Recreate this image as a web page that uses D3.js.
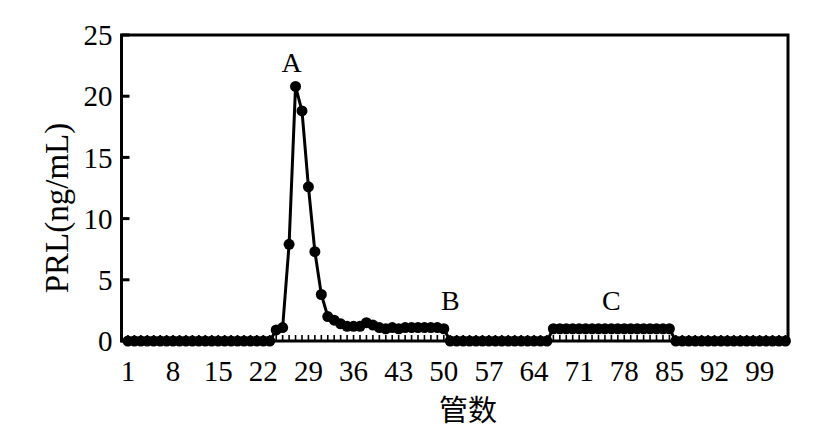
<!DOCTYPE html>
<html><head><meta charset="utf-8">
<script src="https://cdn.jsdelivr.net/npm/d3@7"></script>
<style>html,body{margin:0;padding:0;background:#fff;}</style>
</head><body>
<svg id="c" width="826" height="448"></svg>
<script>
// Tube numbers (categories)
const tubes = d3.range(1, 104);
// PRL concentration (ng/mL) per tube
const prl = [
  0,0,0,0,0,0,0,0,0,0, 0,0,0,0,0,0,0,0,0,0, 0,0,0,
  0.9,1.1,7.9,20.8,18.8,12.6,7.3,3.8,2.0,1.7,1.4,1.2,1.2,1.2,1.5,1.3,1.1,1.0,1.1,1.0,1.1,1.1,1.1,1.1,1.1,1.1,1.0,
  0,0,0,0,0,0,0,0,0,0,0,0,0,0,0,0,
  1.0,1.0,1.0,1.0,1.0,1.0,1.0,1.0,1.0,1.0,1.0,1.0,1.0,1.0,1.0,1.0,1.0,1.0,1.0,
  0,0,0,0,0,0,0,0,0,0,0,0,0,0,0,0,0,0
];
const xTickLabels = [1, 8, 15, 22, 29, 36, 43, 50, 57, 64, 71, 78, 85, 92, 99];
const yTicks = [0, 5, 10, 15, 20, 25];
const peakLabels = [{t: "A", tube: 27, v: 20.8}, {t: "B", tube: 51, v: 1.1}, {t: "C", tube: 76, v: 1.0}];
const yTitle = "PRL(ng/mL)";
const xTitle = "管数";

const L = 121.5, R = 788, T = 35, B = 341;
const x = d3.scaleLinear().domain([0, 103.4]).range([L, R]);
const y = d3.scaleLinear().domain([0, 25]).range([B, T]);
const svg = d3.select("#c");
const serif = "'Liberation Serif','Times New Roman',serif";

// x minor ticks (inward)
svg.append("g").selectAll("line").data(tubes).join("line")
  .attr("x1", d => x(d)).attr("x2", d => x(d))
  .attr("y1", B).attr("y2", B - 6)
  .attr("stroke", "#000").attr("stroke-width", 1.6);

// y ticks (inward)
svg.append("g").selectAll("line").data(yTicks).join("line")
  .attr("x1", L).attr("x2", L + 8)
  .attr("y1", d => y(d)).attr("y2", d => y(d))
  .attr("stroke", "#000").attr("stroke-width", 3);

// frame
svg.append("rect").attr("x", L).attr("y", T).attr("width", R - L).attr("height", B - T)
  .attr("fill", "none").attr("stroke", "#000").attr("stroke-width", 3);

// tick labels
svg.append("g").selectAll("text").data(yTicks).join("text")
  .attr("x", L - 9).attr("y", d => y(d)).attr("dy", "0.35em")
  .attr("text-anchor", "end").attr("font-family", serif).attr("font-size", 29)
  .text(d => d);
svg.append("g").selectAll("text").data(xTickLabels).join("text")
  .attr("x", d => x(d)).attr("y", B + 40)
  .attr("text-anchor", "middle").attr("font-family", serif).attr("font-size", 29)
  .text(d => d);

// axis titles
svg.append("text").attr("transform", `translate(68,${(T + B) / 2 + 20}) rotate(-90)`)
  .attr("text-anchor", "middle").attr("font-family", serif).attr("font-size", 33)
  .text(yTitle);
svg.append("text").attr("x", 468).attr("y", 421)
  .attr("text-anchor", "middle").attr("font-family", "'Noto Sans CJK SC',sans-serif").attr("font-size", 29)
  .text(xTitle);

// line
const data = tubes.map((t, i) => ({t, v: prl[i]}));
svg.append("path").datum(data)
  .attr("d", d3.line().x(d => x(d.t)).y(d => y(d.v)))
  .attr("fill", "none").attr("stroke", "#000").attr("stroke-width", 3);
svg.append("g").selectAll("circle").data(data).join("circle")
  .attr("cx", d => x(d.t)).attr("cy", d => y(d.v)).attr("r", 5.5).attr("fill", "#000");

// peak labels
svg.append("g").selectAll("text").data(peakLabels).join("text")
  .attr("x", d => x(d.tube) - (d.t === "A" ? 4 : 0))
  .attr("y", d => d.t === "A" ? 72 : 310)
  .attr("text-anchor", "middle").attr("font-family", serif).attr("font-size", 28)
  .text(d => d.t);
</script>
</body></html>
